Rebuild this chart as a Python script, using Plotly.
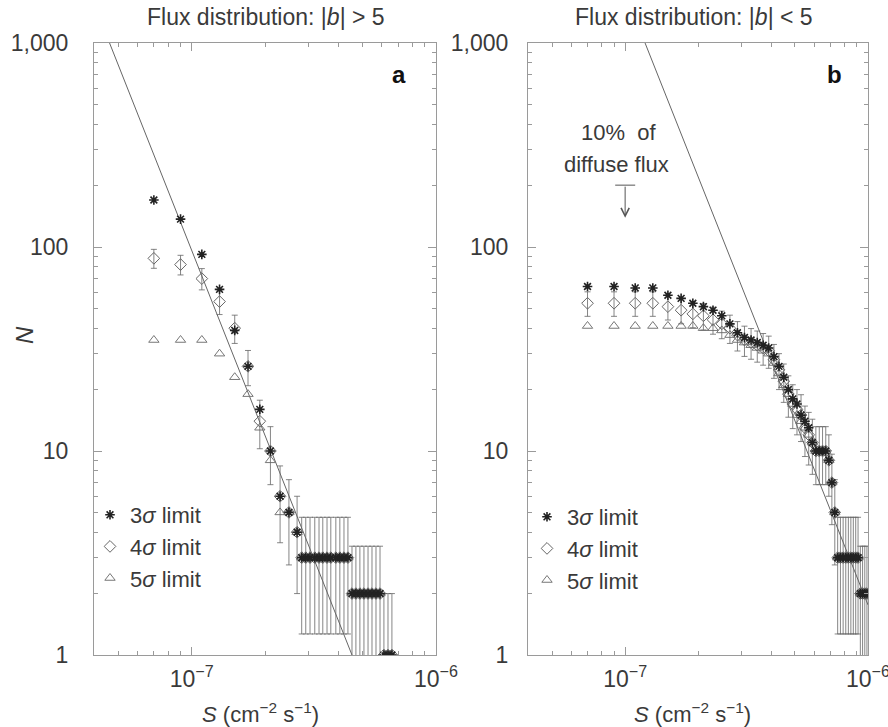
import math
import plotly.graph_objects as go

W, H = 888, 727
ML, MR, MT, MB = 94, 20, 43, 72
PW = W - ML - MR
PH = H - MT - MB


def px(x):
    return (x - ML) / PW


def py(y):
    return (H - MB - y) / PH


UNIT = 1e-8  # flux values below are in units of 1e-8 cm^-2 s^-1

# ---------------- Panel a : |b| > 5 ----------------
A_S = [7, 9, 11, 13, 15, 17, 19, 21, 23, 25, 27,
       28.2, 29.3, 30.5, 31.9, 33.2, 34.4, 35.8, 37.1, 38.9, 40.4, 42.0, 43.6,
       45.3, 47.0, 48.8, 50.7, 52.7, 54.7, 56.8, 59.0,
       61.2, 63.6, 66.0]
A_N3 = [170, 137, 92, 62, 39, 26, 16, 10, 6, 5, 4,
        3, 3, 3, 3, 3, 3, 3, 3, 3, 3, 3, 3,
        2, 2, 2, 2, 2, 2, 2, 2,
        1, 1, 1]
A_N4 = [88, 82, 70, 54, 40, 26, 14, 10, 6, 5, 4,
        3, 3, 3, 3, 3, 3, 3, 3, 3, 3, 3, 3,
        2, 2, 2, 2, 2, 2, 2, 2,
        1, 1, 1]
A_N5 = [35, 35, 35, 30, 23, 19, 13, 9, 5, 5, 4,
        3, 3, 3, 3, 3, 3, 3, 3, 3, 3, 3, 3,
        2, 2, 2, 2, 2, 2, 2, 2,
        1, 1, 1]
A_LINE_S = [4.61, 45.3]
A_LINE_N = [1000, 1]

# ---------------- Panel b : |b| < 5 ----------------
B_S = [7, 9, 11, 13, 15, 17, 19, 21, 23, 25, 27, 29, 31, 33, 35, 37, 39, 41, 43,
       45, 47, 49, 51, 53, 55, 57, 59, 61, 63, 65, 67, 69, 71, 73,
       75, 77, 79, 81, 83, 85, 87, 89, 91, 93, 95, 97, 99]
B_N3 = [64, 64, 63, 63, 58, 56, 53, 51, 49, 46, 42, 38, 36, 35, 34, 33, 32, 29, 26,
        23, 20, 18, 17, 15, 14, 13, 11, 10, 10, 10, 10, 9, 7, 5,
        3, 3, 3, 3, 3, 3, 3, 3, 3, 2, 2, 2, 2]
B_N4 = [53, 53, 53, 53, 51, 49, 47, 46, 44, 42, 40, 37, 35, 34, 33, 32, 31, 28, 25,
        22, 19, 17, 16, 15, 13, 12, 11, 10, 10, 10, 10, 9, 7, 5,
        3, 3, 3, 3, 3, 3, 3, 3, 3, 2, 2, 2, 2]
B_N5 = [41, 41, 41, 41, 41, 41, 41, 40, 40, 39, 37, 35, 34, 33, 32, 31, 30, 27, 24,
        21, 19, 17, 15, 14, 13, 12, 11, 10, 10, 10, 10, 9, 7, 5,
        3, 3, 3, 3, 3, 3, 3, 3, 3, 2, 2, 2, 2]
B_LINE_S = [12.08, 100]
B_LINE_N = [1000, 1.76]

# "10% of diffuse flux" marker
ARROW_S = 1e-7
ARROW_TOP = 201
ARROW_TIP = 139

Y_TICKS = [1, 10, 100, 1000]
Y_TICKTEXT = ["1", "10", "100", "1,000"]
X_TICKS = [1e-7, 1e-6]
X_TICKTEXT = ["10<sup>\u22127</sup>", "10<sup>\u22126</sup>"]
SERIES_NAMES = ["3<i>\u03c3</i> limit", "4<i>\u03c3</i> limit", "5<i>\u03c3</i> limit"]

FONT = "Liberation Sans"
TXT = "#3a3a3a"
FRAME = "#9a9a9a"

fig = go.Figure()


def add_panel(S, n3, n4, n5, ls, ln, xa, ya, leg):
    s = [v * UNIT for v in S]
    fig.add_trace(go.Scatter(x=[v * UNIT for v in ls], y=ln, mode="lines",
                             line=dict(color="#666", width=1), showlegend=False,
                             xaxis=xa, yaxis=ya, hoverinfo="skip"))
    err_p = [n ** 0.5 for n in n4]
    err_m = [min(n ** 0.5, 0.999 * n) for n in n4]
    fig.add_trace(go.Scatter(
        x=s, y=n5, mode="markers", name=SERIES_NAMES[2], legend=leg, legendrank=3,
        marker=dict(symbol="triangle-up-open", size=9, color="#777",
                    line=dict(width=1, color="#777")),
        xaxis=xa, yaxis=ya))
    fig.add_trace(go.Scatter(
        x=s, y=n4, mode="markers", name=SERIES_NAMES[1], legend=leg, legendrank=2,
        marker=dict(symbol="diamond-open", size=9, color="#666",
                    line=dict(width=1, color="#666")),
        error_y=dict(type="data", symmetric=False, array=err_p, arrayminus=err_m,
                     color="#666", thickness=0.8, width=3),
        xaxis=xa, yaxis=ya))
    fig.add_trace(go.Scatter(
        x=s, y=n3, mode="markers", name=SERIES_NAMES[0], legend=leg, legendrank=1,
        marker=dict(symbol="asterisk-open", size=8, color="#222",
                    line=dict(width=1.6, color="#222")),
        xaxis=xa, yaxis=ya))


add_panel(A_S, A_N3, A_N4, A_N5, A_LINE_S, A_LINE_N, "x", "y", "legend")
add_panel(B_S, B_N3, B_N4, B_N5, B_LINE_S, B_LINE_N, "x2", "y2", "legend2")

minor_x = [m * 1e-8 for m in range(4, 10)] + [m * 1e-7 for m in range(2, 10)]
minor_y = [m * 10 ** e for e in range(0, 3) for m in range(2, 10)]

axis_common = dict(type="log", showline=True, linecolor=FRAME, linewidth=1,
                   mirror="ticks", ticks="inside", ticklen=8, tickwidth=1,
                   tickcolor=FRAME, showgrid=False, zeroline=False, automargin=False,
                   ticklabeloverflow="allow",
                   tickfont=dict(family=FONT, size=23, color=TXT))

xa = dict(axis_common, range=[-7.4, -6], tickvals=X_TICKS, ticktext=X_TICKTEXT,
          ticklabelstandoff=3,
          minor=dict(tickvals=minor_x, ticks="inside", ticklen=4, tickcolor=FRAME,
                     showgrid=False))
ya = dict(axis_common, range=[0, 3], tickvals=Y_TICKS, ticktext=Y_TICKTEXT,
          minor=dict(tickvals=minor_y, ticks="inside", ticklen=4, tickcolor=FRAME,
                     showgrid=False))

dom_a = [0, px(436)]
dom_b = [px(528), 1]

fig.update_layout(
    width=W, height=H,
    margin=dict(l=ML, r=MR, t=MT, b=MB, autoexpand=False),
    paper_bgcolor="white", plot_bgcolor="white",
    font=dict(family=FONT, size=22, color=TXT),
    xaxis=dict(xa, domain=dom_a, anchor="y"),
    yaxis=dict(ya, domain=[0, 1], anchor="x", ticklabelstandoff=20),
    xaxis2=dict(xa, domain=dom_b, anchor="y2"),
    yaxis2=dict(ya, domain=[0, 1], anchor="x2", ticklabelstandoff=14),
    legend=dict(x=px(90), y=py(494), xanchor="left", yanchor="top",
                bgcolor="rgba(0,0,0,0)", font=dict(family=FONT, size=22, color=TXT),
                tracegroupgap=0, itemwidth=30),
    legend2=dict(x=px(527), y=py(496), xanchor="left", yanchor="top",
                 bgcolor="rgba(0,0,0,0)", font=dict(family=FONT, size=22, color=TXT),
                 tracegroupgap=0, itemwidth=30),
    showlegend=True,
)


def note(text, x, y, size=22, color=TXT, angle=0):
    return dict(text=text, x=px(x), y=py(y), xref="paper", yref="paper",
                xanchor="center", yanchor="middle", showarrow=False,
                textangle=angle, font=dict(family=FONT, size=size, color=color))


ann = [
    note("Flux distribution: |<i>b</i>| > 5", 266, 17, 23),
    note("Flux distribution: |<i>b</i>| < 5", 694, 17, 23),
    note("<b>a</b>", 399, 74, 24, "#111"),
    note("<b>b</b>", 834, 74, 24, "#111"),
    note("<i>N</i>", 24, 335, 24, TXT, -90),
    note("<i>S</i> (cm<sup>\u22122</sup> s<sup>\u22121</sup>)", 260, 713, 22),
    note("<i>S</i> (cm<sup>\u22122</sup> s<sup>\u22121</sup>)", 692, 713, 22),
    note("10%  of", 618, 132, 22),
    note("diffuse flux", 616, 165, 22),
    dict(text="", xref="x2", yref="y2", axref="x2", ayref="y2",
         x=math.log10(ARROW_S), y=math.log10(ARROW_TIP),
         ax=math.log10(ARROW_S), ay=math.log10(ARROW_TOP),
         showarrow=True, arrowhead=5, arrowsize=1.6, arrowwidth=1,
         arrowcolor="#555", standoff=0, startstandoff=0),
]
fig.update_layout(annotations=ann)

shapes = [
    dict(type="line", xref="x2", yref="y2", x0=ARROW_S * 0.91, x1=ARROW_S * 1.10,
         y0=ARROW_TOP, y1=ARROW_TOP, line=dict(color="#555", width=1)),
]
fig.update_layout(shapes=shapes)

fig.write_html("out.html")
